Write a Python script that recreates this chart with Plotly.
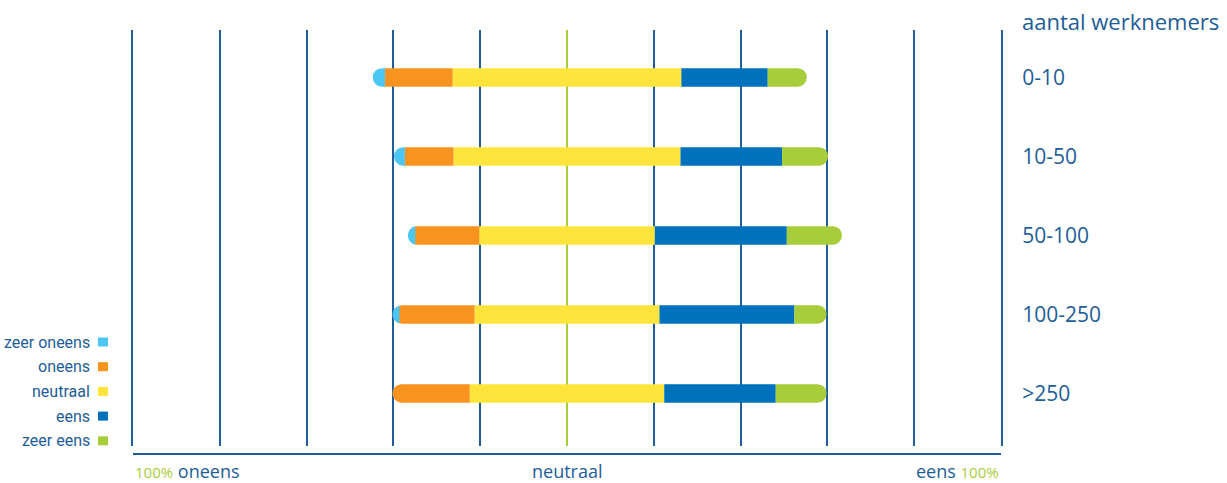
import plotly.graph_objects as go

# Survey answers per company size (percent of respondents)
groups = ["0-10", "10-50", "50-100", "100-250", ">250"]
zeer_oneens = [2.8, 2.5, 1.7, 1.6, 0.0]
oneens = [15.6, 11.2, 14.7, 17.3, 17.8]
neutraal = [52.7, 52.3, 40.5, 42.6, 44.8]
eens = [19.9, 23.4, 30.4, 31.1, 25.7]
zeer_eens = [9.0, 10.6, 12.7, 7.4, 11.7]

legend_labels = ["zeer oneens", "oneens", "neutraal", "eens", "zeer eens"]
colors = ["#4cc6f3", "#f7931e", "#ffe53b", "#0071bc", "#a8cd3a"]

TEXT_BLUE = "#1d5d98"
GRID_BLUE = "#1f5e9b"
LIME = "#a8cd3a"
FONT = "Open Sans, Noto Sans, sans-serif"
SMALL_FONT = "Roboto, Open Sans, sans-serif"

BAR_W = 0.235
fig = go.Figure()

def add_bar(values, color, name):
    fig.add_trace(go.Bar(
        y=groups, x=values, orientation="h", width=BAR_W, name=name,
        marker=dict(color=color, line=dict(width=0)), showlegend=False,
        hoverinfo="skip",
    ))

# negative side: half of neutral, then disagreement stacked outwards
add_bar([-v / 2 for v in neutraal], colors[2], "neutraal")
add_bar([-v for v in oneens], colors[1], "oneens")
add_bar([-v for v in zeer_oneens], colors[0], "zeer oneens")
# positive side: other half of neutral, then agreement stacked outwards
add_bar([v / 2 for v in neutraal], colors[2], "neutraal")
add_bar(eens, colors[3], "eens")
add_bar(zeer_eens, colors[4], "zeer eens")

L, R, T, B = 133, 226, 30, 37
W, H = 1227, 483
pw, ph = W - L - R, H - T - B

def px_x(px):
    return (px - L) / pw

def px_y(py):
    return (H - B - py) / ph

annotations = [
    dict(x=px_x(1020), y=px_y(21), xref="paper", yref="paper", xanchor="left",
         yanchor="middle", text="aantal werknemers", showarrow=False,
         font=dict(family=FONT, size=22, color=TEXT_BLUE)),
    dict(x=0, y=px_y(485), xref="paper", yref="paper", xanchor="left",
         yanchor="bottom", showarrow=False,
         text=f"<span style='color:{LIME};font-size:15px'>100%</span> oneens",
         font=dict(family=FONT, size=18, color=TEXT_BLUE)),
    dict(x=0.5, y=px_y(485), xref="paper", yref="paper", xanchor="center",
         yanchor="bottom", showarrow=False, text="neutraal",
         font=dict(family=FONT, size=18, color=TEXT_BLUE)),
    dict(x=1, y=px_y(485), xref="paper", yref="paper", xanchor="right",
         yanchor="bottom", showarrow=False,
         text=f"eens <span style='color:{LIME};font-size:15px'>100%</span>",
         font=dict(family=FONT, size=18, color=TEXT_BLUE)),
]

# legend: label on the left, colour swatch on the right
shapes = []
for i, (lab, col) in enumerate(zip(legend_labels, colors)):
    cy = 342 + i * 24.7
    annotations.append(dict(
        x=px_x(92), y=px_y(cy), xref="paper", yref="paper", xanchor="right",
        yanchor="middle", text=lab, showarrow=False,
        font=dict(family=SMALL_FONT, size=16, color=TEXT_BLUE)))
    shapes.append(dict(
        type="rect", xref="paper", yref="paper",
        x0=px_x(98), x1=px_x(108), y0=px_y(cy + 4.5), y1=px_y(cy - 4.5),
        fillcolor=col, line=dict(width=0)))

# baseline under the chart
shapes.append(dict(type="line", xref="paper", yref="paper", x0=0, x1=1,
                   y0=px_y(454), y1=px_y(454),
                   line=dict(color=GRID_BLUE, width=2)))

fig.update_layout(
    barmode="relative",
    barcornerradius=9,
    width=W, height=H,
    margin=dict(l=L, r=R, t=T, b=B),
    paper_bgcolor="white", plot_bgcolor="white",
    annotations=annotations, shapes=shapes,
    xaxis=dict(range=[-100, 100], dtick=20, tick0=0, showgrid=True,
               gridcolor=GRID_BLUE, gridwidth=1.5, showticklabels=False,
               zeroline=True, zerolinecolor=LIME, zerolinewidth=2,
               showline=False, fixedrange=True),
    yaxis=dict(categoryorder="array", categoryarray=groups,
               range=[4.665, -0.601], side="right", showgrid=False,
               zeroline=False, showline=True, mirror=True, linewidth=2,
               linecolor=GRID_BLUE, ticks="", ticklabelstandoff=15,
               tickfont=dict(family=FONT, size=21, color=TEXT_BLUE),
               fixedrange=True),
)

fig.write_html("out.html")
